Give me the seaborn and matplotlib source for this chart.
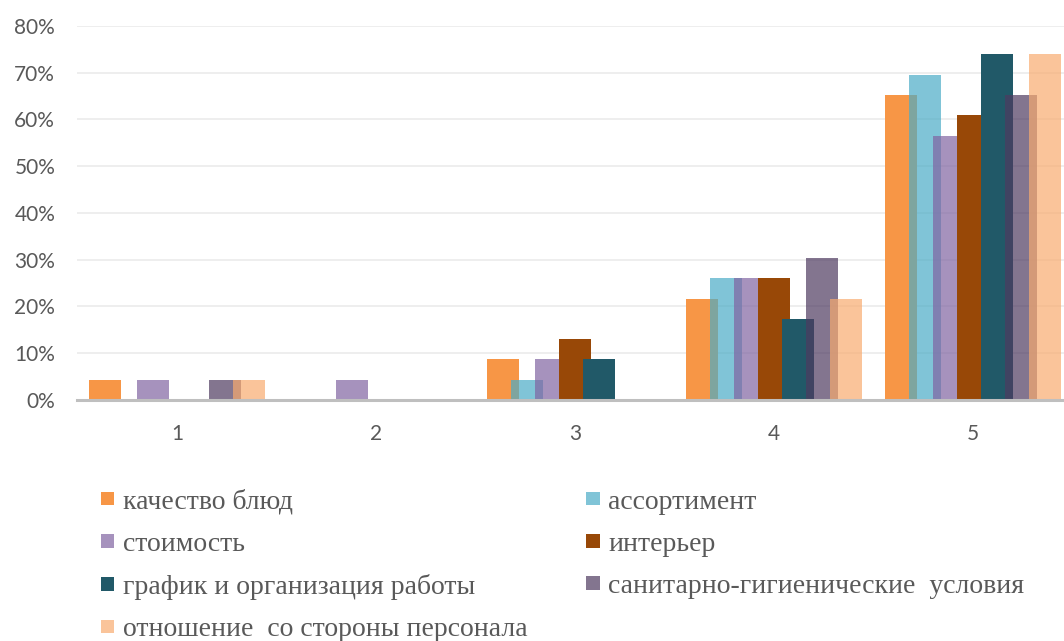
import numpy as np
import pandas as pd
import matplotlib
matplotlib.use("Agg")
import matplotlib.pyplot as plt
import matplotlib.patches as mpatches
from matplotlib.ticker import PercentFormatter
import seaborn as sns

# данные: доля оценок (1..5) по каждому критерию
scores = ["1", "2", "3", "4", "5"]
criteria = ["качество блюд", "ассортимент", "стоимость", "интерьер",
            "график и организация работы", "санитарно-гигиенические  условия",
            "отношение  со стороны персонала"]
kachestvo = [0.0435, 0.0, 0.087, 0.217, 0.652]
assortiment = [0.0, 0.0, 0.0435, 0.261, 0.696]
stoimost = [0.0435, 0.0435, 0.087, 0.261, 0.565]
interier = [0.0, 0.0, 0.130, 0.261, 0.609]
grafik = [0.0, 0.0, 0.087, 0.174, 0.739]
sanitar = [0.0435, 0.0, 0.0, 0.304, 0.652]
otnoshenie = [0.0435, 0.0, 0.0, 0.217, 0.739]

colors = ["#F79646", "#4BACC6", "#8064A2", "#984807", "#215968", "#4E3A60", "#F8AB6F"]
alphas = [1.0, 0.7, 0.7, 1.0, 1.0, 0.7, 0.7]

series = [kachestvo, assortiment, stoimost, interier, grafik, sanitar, otnoshenie]
df = pd.DataFrame([(s, c, v) for c, vals in zip(criteria, series) for s, v in zip(scores, vals)],
                  columns=["оценка", "критерий", "доля"])

sns.set_style("white")
plt.rcParams["font.family"] = ["Lato", "DejaVu Sans"]

fig = plt.figure(figsize=(10.64, 6.41), dpi=100)
ax = fig.add_axes([0.0728, 0.376, 0.935, 0.5835])

step = 0.1206
sns.barplot(data=df, x="оценка", y="доля", hue="критерий", order=scores,
            hue_order=criteria, palette=colors, width=step * len(criteria),
            saturation=1, linewidth=0, legend=False, ax=ax)

# Excel-style overlap: bars wider than their slot
for i, cont in enumerate(ax.containers):
    for bar in cont:
        x, w = bar.get_x(), bar.get_width()
        nw = w * 32 / 24
        bar.set_x(x + w / 2 - nw / 2)
        bar.set_width(nw)
        bar.set_alpha(alphas[i])
        bar.set_zorder(3 + i)

ax.set_xlim(-0.5, 4.5)
ax.set_ylim(0, 0.8)
ax.set_yticks(np.arange(0, 0.81, 0.1))
ax.yaxis.set_major_formatter(PercentFormatter(1.0, decimals=0))
ax.grid(axis="y", color="#EBEBEB", linewidth=1.2, zorder=0)
ax.set_axisbelow(True)
for s in ["top", "right", "left"]:
    ax.spines[s].set_visible(False)
ax.spines["bottom"].set_color("#BFBFBF")
ax.spines["bottom"].set_linewidth(2.2)
ax.spines["bottom"].set_zorder(20)
ax.tick_params(axis="both", length=0, labelsize=15, labelcolor="#595959")
ax.tick_params(axis="y", pad=16)
ax.tick_params(axis="x", pad=17)
ax.set_xlabel("")
ax.set_ylabel("")

# legend in two columns, filled row by row
handles = [mpatches.Patch(facecolor=c, alpha=a, linewidth=0) for c, a in zip(colors, alphas)]
order = [0, 2, 4, 6, 1, 3, 5]
fig.legend([handles[i] for i in order], [criteria[i] for i in order], ncol=2,
           loc="upper left", bbox_to_anchor=(0.0945, 0.237),
           frameon=False, prop={"family": "Liberation Serif", "size": 20},
           labelcolor="#595959", handlelength=0.5, handleheight=0.37,
           handletextpad=0.3, columnspacing=2.1, labelspacing=0.62,
           borderaxespad=0, borderpad=0)

fig.savefig("out.png", dpi=100)
